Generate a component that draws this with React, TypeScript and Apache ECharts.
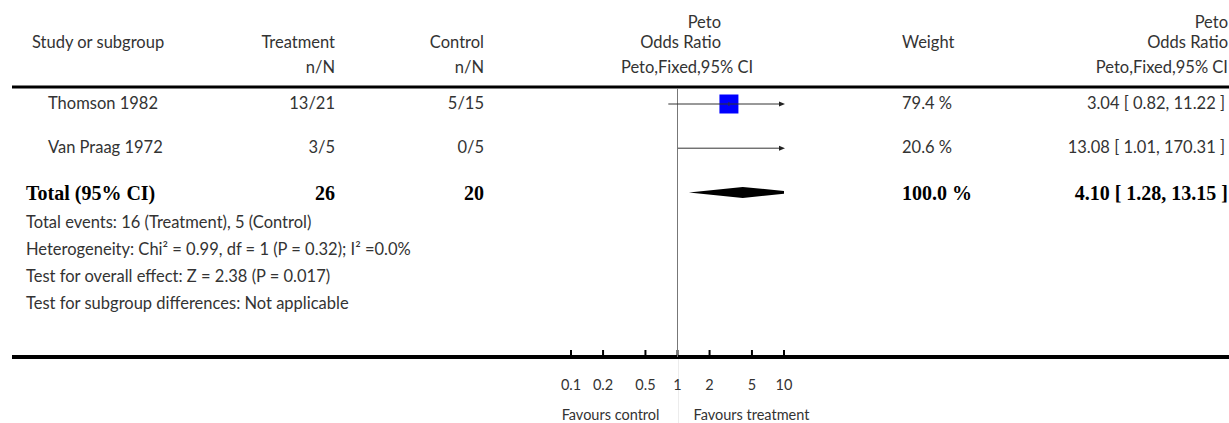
import React, { useEffect, useRef } from "react";
import * as echarts from "echarts";

// ---------- data ----------
const studies = ["Thomson 1982", "Van Praag 1972"];
const treatEvents = [13, 3];
const treatTotal = [21, 5];
const ctrlEvents = [5, 0];
const ctrlTotal = [15, 5];
const weights = [79.4, 20.6];
const orEst = [3.04, 13.08];
const orLo = [0.82, 1.01];
const orHi = [11.22, 170.31];

const totalLabel = "Total (95% CI)";
const totalTreatN = 26;
const totalCtrlN = 20;
const totalWeight = 100.0;
const totalEst = 4.1;
const totalLo = 1.28;
const totalHi = 13.15;

const tickValues = [0.1, 0.2, 0.5, 1, 2, 5, 10];
const tickLabels = ["0.1", "0.2", "0.5", "1", "2", "5", "10"];
const axisMin = 0.1;
const axisMax = 10;

const footnotes = [
  "Total events: 16 (Treatment), 5 (Control)",
  "Heterogeneity: Chi² = 0.99, df = 1 (P = 0.32); I² =0.0%",
  "Test for overall effect: Z = 2.38 (P = 0.017)",
  "Test for subgroup differences: Not applicable",
];

// ---------- styles ----------
const SANS = "Lato, 'Open Sans', sans-serif";
const SERIF = "'Liberation Serif', 'Times New Roman', serif";
const TXT = "#333";
const FS = 16.5;
const AXFS = 14.5;
const BOLDFS = 20;

const fmt2 = (v: number) => v.toFixed(2);

function txt(text: string, x: number, y: number, align: string, opts: any = {}) {
  return {
    type: "text",
    x,
    y,
    silent: true,
    style: {
      text,
      fill: opts.fill || TXT,
      fontSize: opts.fontSize || FS,
      fontFamily: opts.fontFamily || SANS,
      fontWeight: opts.fontWeight || "normal",
      textAlign: align,
      textVerticalAlign: "middle",
      align,
      verticalAlign: "middle",
    },
  };
}

export default function App() {
  const ref = useRef<HTMLDivElement>(null);

  useEffect(() => {
    if (!ref.current) return;
    const chart = echarts.init(ref.current, undefined, { renderer: "svg" });

    const nRows = studies.length + 1;

    const option: any = {
      animation: false,
      backgroundColor: "#fff",
      grid: { left: 571, width: 213, top: 88, height: 269 },
      xAxis: {
        type: "log",
        logBase: 10,
        min: axisMin,
        max: axisMax,
        show: false,
      },
      yAxis: {
        type: "value",
        min: -0.362,
        max: 5.724,
        inverse: true,
        show: false,
      },
      graphic: [
        // header
        txt("Study or subgroup", 32, 42, "left"),
        txt("Treatment", 335, 42, "right"),
        txt("Control", 484, 42, "right"),
        txt("Peto", 721, 22, "right"),
        txt("Odds Ratio", 721, 42, "right"),
        txt("Weight", 902, 42, "left"),
        txt("Peto", 1228, 22, "right"),
        txt("Odds Ratio", 1228, 42, "right"),
        txt("n/N", 335, 67, "right"),
        txt("n/N", 484, 67, "right"),
        txt("Peto,Fixed,95% CI", 687, 67, "center"),
        txt("Peto,Fixed,95% CI", 1228, 67, "right"),
        // rules
        {
          type: "line",
          silent: true,
          shape: { x1: 12, y1: 87, x2: 1229, y2: 87 },
          style: { stroke: "#000", lineWidth: 3 },
        },
        {
          type: "line",
          silent: true,
          shape: { x1: 12, y1: 357, x2: 1229, y2: 357 },
          style: { stroke: "#000", lineWidth: 4 },
        },
        // footnotes
        ...footnotes.map((f, i) => txt(f, 26, 222 + i * 27, "left")),
      ],
      series: [
        // reference line at 1 + axis ticks + labels
        {
          type: "custom",
          coordinateSystem: "cartesian2d",
          clip: false,
          z: 1,
          data: tickValues.map((v, i) => [v, i]),
          renderItem: (params: any, api: any) => {
            const cs = params.coordSys;
            const idx = params.dataIndex;
            const v = api.value(0);
            const x = api.coord([v, 0])[0];
            const bottom = cs.y + cs.height;
            const children: any[] = [
              {
                type: "line",
                shape: { x1: x, y1: bottom - 7, x2: x, y2: bottom - 2 },
                style: { stroke: "#000", lineWidth: 2 },
              },
              {
                type: "text",
                z2: 5,
                style: {
                  text: tickLabels[idx],
                  x,
                  y: bottom + 27,
                  fill: TXT,
                  fontSize: AXFS,
                  fontFamily: SANS,
                  align: "center",
                  verticalAlign: "middle",
                },
              },
            ];
            if (v === 1) {
              children.push(
                {
                  type: "line",
                  shape: { x1: x, y1: cs.y, x2: x, y2: bottom },
                  style: { stroke: "#777", lineWidth: 1 },
                },
                {
                  type: "line",
                  shape: { x1: x + 1, y1: bottom + 2, x2: x + 1, y2: 423 },
                  style: { stroke: "#ececec", lineWidth: 1 },
                },
                {
                  type: "text",
                  style: {
                    text: "Favours control",
                    x: x - 18,
                    y: bottom + 57,
                    fill: TXT,
                    fontSize: AXFS,
                    fontFamily: SANS,
                    align: "right",
                    verticalAlign: "middle",
                  },
                },
                {
                  type: "text",
                  style: {
                    text: "Favours treatment",
                    x: x + 16,
                    y: bottom + 57,
                    fill: TXT,
                    fontSize: AXFS,
                    fontFamily: SANS,
                    align: "left",
                    verticalAlign: "middle",
                  },
                }
              );
            }
            return { type: "group", children };
          },
        },
        // studies: squares + CI lines
        {
          type: "custom",
          coordinateSystem: "cartesian2d",
          clip: false,
          z: 3,
          data: studies.map((_, i) => [orEst[i], i]),
          renderItem: (params: any, api: any) => {
            const i = params.dataIndex;
            const y = api.coord([1, i])[1];
            const xMin = api.coord([axisMin, i])[0];
            const xMax = api.coord([axisMax, i])[0];
            const xl = Math.max(api.coord([orLo[i], i])[0], xMin);
            const xhRaw = api.coord([orHi[i], i])[0];
            const xh = Math.min(xhRaw, xMax);
            const xe = api.coord([orEst[i], i])[0];
            const children: any[] = [];
            const side = 19 * Math.sqrt(weights[i] / weights[0]);
            if (orEst[i] >= axisMin && orEst[i] <= axisMax) {
              children.push({
                type: "rect",
                shape: { x: xe - side / 2, y: y - side / 2, width: side, height: side },
                style: { fill: "#0000ff" },
              });
              children.push({
                type: "line",
                shape: { x1: xe, y1: y - 2, x2: xe, y2: y + 2 },
                style: { stroke: "#333", lineWidth: 1 },
              });
            }
            const arrowR = xhRaw > xMax;
            children.push({
              type: "line",
              shape: { x1: xl, y1: y, x2: arrowR ? xh - 5 : xh, y2: y },
              style: { stroke: "#333", lineWidth: 1 },
            });
            if (arrowR) {
              children.push({
                type: "polygon",
                shape: { points: [[xh + 1, y], [xh - 5, y - 2.5], [xh - 5, y + 2.5]] },
                style: { fill: "#222" },
              });
            }
            return { type: "group", children };
          },
        },
        // total diamond
        {
          type: "custom",
          coordinateSystem: "cartesian2d",
          clip: false,
          z: 3,
          data: [[totalEst, studies.length]],
          renderItem: (params: any, api: any) => {
            const row = studies.length;
            const y = api.coord([1, row])[1];
            const xMin = api.coord([axisMin, row])[0];
            const xMax = api.coord([axisMax, row])[0];
            const xl = api.coord([totalLo, row])[0];
            const xh = api.coord([totalHi, row])[0];
            const xe = api.coord([totalEst, row])[0];
            const h = 5.5;
            const pts: number[][] = [];
            const cl = Math.max(xl, xMin);
            const ch = Math.min(xh, xMax);
            const hAt = (x: number) =>
              x <= xe ? (h * (x - xl)) / (xe - xl) : (h * (xh - x)) / (xh - xe);
            pts.push([cl, y - hAt(cl)]);
            pts.push([xe, y - h]);
            pts.push([ch, y - hAt(ch)]);
            pts.push([ch, y + hAt(ch)]);
            pts.push([xe, y + h]);
            pts.push([cl, y + hAt(cl)]);
            return {
              type: "polygon",
              shape: { points: pts },
              style: { fill: "#000" },
            };
          },
        },
        // table text rows
        {
          type: "custom",
          coordinateSystem: "cartesian2d",
          clip: false,
          z: 2,
          data: Array.from({ length: nRows }, (_, i) => [1, i]),
          renderItem: (params: any, api: any) => {
            const i = params.dataIndex;
            const y = api.coord([1, i])[1];
            const mk = (text: string, x: number, align: string, bold = false) => ({
              type: "text",
              style: {
                text,
                x,
                y: bold ? y + 1 : y - 1,
                fill: bold ? "#000" : TXT,
                fontSize: bold ? BOLDFS : FS,
                fontFamily: bold ? SERIF : SANS,
                fontWeight: bold ? "bold" : "normal",
                align,
                verticalAlign: "middle",
              },
            });
            if (i < studies.length) {
              return {
                type: "group",
                children: [
                  mk(studies[i], 48, "left"),
                  mk(`${treatEvents[i]}/${treatTotal[i]}`, 335, "right"),
                  mk(`${ctrlEvents[i]}/${ctrlTotal[i]}`, 484, "right"),
                  mk(`${weights[i].toFixed(1)} %`, 902, "left"),
                  mk(`${fmt2(orEst[i])} [ ${fmt2(orLo[i])}, ${fmt2(orHi[i])} ]`, 1225, "right"),
                ],
              };
            }
            return {
              type: "group",
              children: [
                mk(totalLabel, 26, "left", true),
                mk(String(totalTreatN), 335, "right", true),
                mk(String(totalCtrlN), 484, "right", true),
                mk(`${totalWeight.toFixed(1)} %`, 902, "left", true),
                mk(`${fmt2(totalEst)} [ ${fmt2(totalLo)}, ${fmt2(totalHi)} ]`, 1228, "right", true),
              ],
            };
          },
        },
      ],
    };

    chart.setOption(option);
    return () => chart.dispose();
  }, []);

  return (
    <div
      ref={ref}
      style={{ position: "fixed", left: 0, top: 0, width: 1229, height: 423, background: "#fff" }}
    />
  );
}
